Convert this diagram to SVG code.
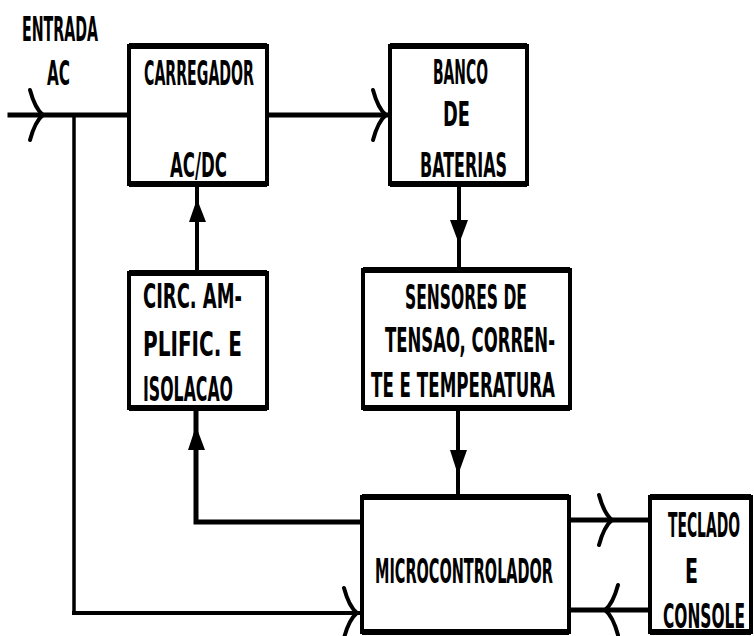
<svg xmlns="http://www.w3.org/2000/svg" width="754" height="636" viewBox="0 0 754 636">
<style>
.box{fill:#fff;stroke:#000;stroke-width:4}
.ln{fill:none;stroke:#000;stroke-width:4;stroke-linecap:square}
.thin{fill:none;stroke:#000;stroke-width:3.5}
.chev{fill:none;stroke:#000;stroke-width:4;stroke-linecap:round}
.tri{fill:#000}
text{font-family:"DejaVu Sans Condensed","DejaVu Sans","Liberation Sans",sans-serif;font-stretch:condensed;font-weight:bold;font-size:16px;fill:#000}
</style>
<defs>
<path id="chev" class="chev" d="M-11,-25 C-7,-10 -3,-4 2,0 C-3,4 -7,10 -11,25"/>
</defs>
<rect width="754" height="636" fill="#fff"/>
<g id="connectors">
  <line class="ln" x1="10" y1="115" x2="129" y2="115" style="stroke-width:5"/>
  <line class="thin" x1="74" y1="115" x2="74" y2="613"/>
  <line class="ln" x1="74" y1="613" x2="360" y2="613"/>
  <line class="ln" x1="267" y1="115" x2="388" y2="115" style="stroke-width:5"/>
  <line class="ln" x1="459" y1="184" x2="459" y2="268"/>
  <polygon class="tri" points="450,220 468,220 459,244"/>
  <line class="ln" x1="458" y1="408" x2="458" y2="496"/>
  <polygon class="tri" points="450,450 467,450 458,475"/>
  <line class="ln" x1="197" y1="272" x2="197" y2="186"/>
  <polygon class="tri" points="189,222 206,222 197,199"/>
  <polyline class="ln" points="362,522 196,522 196,410" style="stroke-width:5"/>
  <polygon class="tri" points="188,450 205,450 196,426"/>
  <line class="ln" x1="569" y1="520" x2="650" y2="520" style="stroke-width:5"/>
  <line class="ln" x1="569" y1="610" x2="650" y2="610" style="stroke-width:5"/>
  <use href="#chev" x="41" y="115"/>
  <use href="#chev" x="384" y="115"/>
  <use href="#chev" x="610" y="520"/>
  <use href="#chev" x="355" y="613"/>
  <use href="#chev" transform="translate(607,610) scale(-1,1)"/>
</g>
<g id="entrada-ac">
  <text transform="translate(22,41) scale(1,2.15)" textLength="76" lengthAdjust="spacingAndGlyphs">ENTRADA</text>
  <text transform="translate(47,85) scale(1,2.15)" textLength="23" lengthAdjust="spacingAndGlyphs">AC</text>
</g>
<g id="carregador">
  <rect class="box" x="129" y="46" width="138" height="138"/>
  <path class="ln" d="M129,46 H267 M129,184 H267" style="stroke-width:6;stroke-linecap:butt"/>
  <text transform="translate(144,85) scale(1,2.15)" textLength="110" lengthAdjust="spacingAndGlyphs">CARREGADOR</text>
  <text transform="translate(170,177) scale(1,2.15)" textLength="57" lengthAdjust="spacingAndGlyphs">AC/DC</text>
</g>
<g id="banco">
  <rect class="box" x="390" y="46" width="137" height="138"/>
  <path class="ln" d="M390,46 H527 M390,184 H527" style="stroke-width:6;stroke-linecap:butt"/>
  <text transform="translate(433,84) scale(1,2.15)" textLength="55" lengthAdjust="spacingAndGlyphs">BANCO</text>
  <text transform="translate(443,126) scale(1,2.15)" textLength="27" lengthAdjust="spacingAndGlyphs">DE</text>
  <text transform="translate(420,177) scale(1,2.15)" textLength="87" lengthAdjust="spacingAndGlyphs">BATERIAS</text>
</g>
<g id="circ">
  <rect class="box" x="129" y="273" width="138" height="135"/>
  <path class="ln" d="M129,273 H267 M129,408 H267" style="stroke-width:6;stroke-linecap:butt"/>
  <text transform="translate(143,308) scale(1,2.15)" textLength="99" lengthAdjust="spacingAndGlyphs">CIRC. AM-</text>
  <text transform="translate(143,356) scale(1,2.15)" textLength="99" lengthAdjust="spacingAndGlyphs">PLIFIC. E</text>
  <text transform="translate(143,401) scale(1,2.15)" textLength="90" lengthAdjust="spacingAndGlyphs">ISOLACAO</text>
</g>
<g id="sensores">
  <rect class="box" x="363" y="270" width="207" height="138"/>
  <path class="ln" d="M363,270 H570 M363,408 H570" style="stroke-width:6;stroke-linecap:butt"/>
  <text transform="translate(405,309) scale(1,2.15)" textLength="122" lengthAdjust="spacingAndGlyphs">SENSORES DE</text>
  <text transform="translate(385,352) scale(1,2.15)" textLength="170" lengthAdjust="spacingAndGlyphs">TENSAO, CORREN-</text>
  <text transform="translate(371,397) scale(1,2.15)" textLength="184" lengthAdjust="spacingAndGlyphs">TE E TEMPERATURA</text>
</g>
<g id="microcontrolador">
  <rect class="box" x="362" y="497" width="207" height="135"/>
  <path class="ln" d="M362,497 H569 M362,632 H569" style="stroke-width:6;stroke-linecap:butt"/>
  <text transform="translate(375,583) scale(1,2.15)" textLength="178" lengthAdjust="spacingAndGlyphs">MICROCONTROLADOR</text>
</g>
<g id="teclado">
  <rect class="box" x="650" y="497" width="101" height="135"/>
  <path class="ln" d="M650,497 H751 M650,632 H751" style="stroke-width:6;stroke-linecap:butt"/>
  <text transform="translate(668,537) scale(1,2.15)" textLength="72" lengthAdjust="spacingAndGlyphs">TECLADO</text>
  <text transform="translate(685,583) scale(1,2.15)" textLength="13" lengthAdjust="spacingAndGlyphs">E</text>
  <text transform="translate(663,628) scale(1,2.15)" textLength="82" lengthAdjust="spacingAndGlyphs">CONSOLE</text>
</g>
</svg>
